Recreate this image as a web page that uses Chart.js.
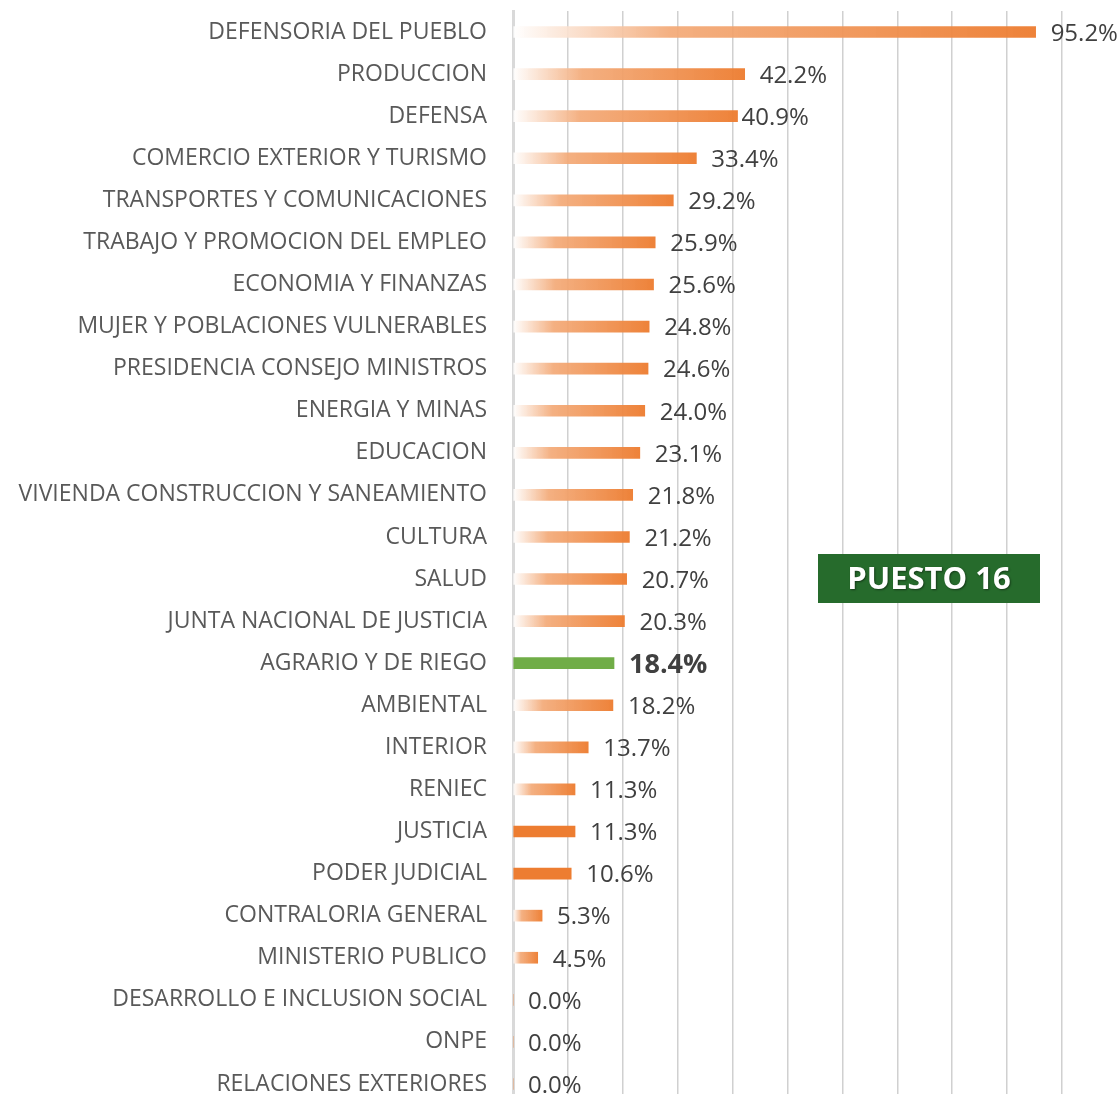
<!DOCTYPE html>
<html>
<head>
<meta charset="utf-8">
<script src="https://cdn.jsdelivr.net/npm/chart.js@4.4.1/dist/chart.umd.min.js"></script>
<style>
  html, body { margin: 0; padding: 0; background: #ffffff; overflow: hidden; }
  #wrap { width: 1119px; height: 1105px; }
</style>
</head>
<body>
<div id="wrap"><canvas id="chart" width="1119" height="1105"></canvas></div>
<script>
// datos (% de avance)
const categorias = [
  'DEFENSORIA DEL PUEBLO', 'PRODUCCION', 'DEFENSA', 'COMERCIO EXTERIOR Y TURISMO',
  'TRANSPORTES Y COMUNICACIONES', 'TRABAJO Y PROMOCION DEL EMPLEO', 'ECONOMIA Y FINANZAS',
  'MUJER Y POBLACIONES VULNERABLES', 'PRESIDENCIA CONSEJO MINISTROS', 'ENERGIA Y MINAS',
  'EDUCACION', 'VIVIENDA CONSTRUCCION Y SANEAMIENTO', 'CULTURA', 'SALUD',
  'JUNTA NACIONAL DE JUSTICIA', 'AGRARIO Y DE RIEGO', 'AMBIENTAL', 'INTERIOR', 'RENIEC',
  'JUSTICIA', 'PODER JUDICIAL', 'CONTRALORIA GENERAL', 'MINISTERIO PUBLICO',
  'DESARROLLO E INCLUSION SOCIAL', 'ONPE', 'RELACIONES EXTERIORES'
];
const valores = [
  95.2, 42.2, 40.9, 33.4, 29.2, 25.9, 25.6, 24.8, 24.6, 24.0,
  23.1, 21.8, 21.2, 20.7, 20.3, 18.4, 18.2, 13.7, 11.3, 11.3,
  10.6, 5.3, 4.5, 0.0, 0.0, 0.0
];
const ejeMin = 0;
const ejeMax = 100;
const ejePaso = 10;

const destacado = 'AGRARIO Y DE RIEGO';
const solidos = ['JUSTICIA', 'PODER JUDICIAL'];
const etiquetaPuesto = 'PUESTO 16';

const NARANJA = '#ED7D31';
const VERDE = '#70AD47';
const FUENTE = '"Open Sans", "DejaVu Sans", sans-serif';

function colorBarra(c) {
    const chart = c.chart;
    const cat = categorias[c.dataIndex];
    if (cat === destacado) return VERDE;
    if (solidos.includes(cat)) return NARANJA;
    const x = chart.scales.x;
    if (!chart.chartArea || !x) return NARANJA;
    const x0 = x.getPixelForValue(0);
    const x1 = x.getPixelForValue(valores[c.dataIndex]);
    if (x1 - x0 < 1) return NARANJA;
    const g = chart.ctx.createLinearGradient(x0, 0, x1, 0);
    g.addColorStop(0, 'rgba(255,255,255,0.9)');
    g.addColorStop(0.3, 'rgba(243,170,120,0.93)');
    g.addColorStop(1, 'rgba(237,125,49,0.96)');
    return g;
}

const etiquetasDatos = {
    id: 'etiquetasDatos',
    afterDatasetsDraw(chart) {
        const ctx = chart.ctx;
        const meta = chart.getDatasetMeta(0);
        ctx.save();
        ctx.textBaseline = 'middle';
        ctx.textAlign = 'left';
        meta.data.forEach((bar, i) => {
            const esDest = categorias[i] === destacado;
            ctx.font = esDest ? 'bold 27px ' + FUENTE : '24px ' + FUENTE;
            ctx.fillStyle = '#404040';
            const off = i === 2 ? 4 : 15;
            ctx.fillText(valores[i].toFixed(1) + '%', bar.x + off, bar.y + 2);
        });
        ctx.restore();
    }
};

const cajaPuesto = {
    id: 'cajaPuesto',
    afterDraw(chart) {
        const ctx = chart.ctx;
        ctx.save();
        ctx.fillStyle = '#266B2C';
        ctx.fillRect(818, 554, 222, 49);
        ctx.font = 'bold 31px ' + FUENTE;
        ctx.textAlign = 'center';
        ctx.textBaseline = 'middle';
        ctx.shadowColor = 'rgba(0,0,0,0.45)';
        ctx.shadowOffsetX = 1;
        ctx.shadowOffsetY = 1.5;
        ctx.shadowBlur = 2;
        ctx.fillStyle = '#ffffff';
        ctx.fillText(etiquetaPuesto, 929, 580);
        ctx.restore();
    }
};

new Chart(document.getElementById('chart'), {
    type: 'bar',
    data: {
        labels: categorias,
        datasets: [{
            data: valores,
            backgroundColor: colorBarra,
            borderWidth: 0,
            barThickness: 11
        }]
    },
    options: {
        indexAxis: 'y',
        responsive: false,
        animation: false,
        layout: { padding: { top: 11, right: 57, bottom: 0, left: 0 } },
        plugins: {
            legend: { display: false },
            tooltip: { enabled: false }
        },
        scales: {
            x: {
                min: ejeMin,
                max: ejeMax,
                afterFit(scale) {
                    scale.height = 0;
                    scale.paddingLeft = 0;
                    scale.paddingRight = 0;
                },
                ticks: { display: false, stepSize: ejePaso },
                grid: { color: '#D0D0D0', lineWidth: 1.5, drawTicks: false },
                border: { display: false }
            },
            y: {
                afterFit(scale) {
                    scale.width = 513;
                    scale.paddingTop = 0;
                    scale.paddingBottom = 0;
                },
                grid: { display: false, drawTicks: false },
                border: { display: true, color: '#D9D9D9', width: 3 },
                ticks: {
                    color: '#595959',
                    padding: 26,
                    font: { family: FUENTE, size: 23 }
                }
            }
        }
    },
    plugins: [etiquetasDatos, cajaPuesto]
});
</script>
</body>
</html>
